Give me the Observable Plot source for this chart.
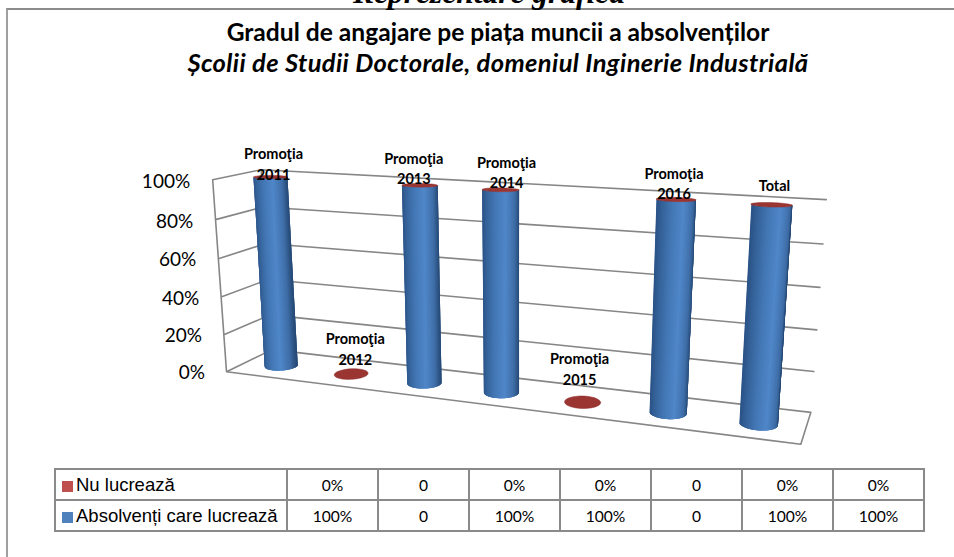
<!DOCTYPE html>
<html lang="ro">
<head>
<meta charset="utf-8">
<script src="https://cdn.jsdelivr.net/npm/d3@7"></script>
<script src="https://cdn.jsdelivr.net/npm/@observablehq/plot@0.6"></script>
<style>
  html, body { margin: 0; padding: 0; background: #fff; overflow: hidden; }
  #page { position: relative; width: 954px; height: 557px; overflow: hidden; }
  #page svg { position: absolute; left: 0; top: 0; background: transparent; }
  #frame { position: absolute; left: 6px; top: 8px; width: 960px; height: 560px; border-top: 2px solid #8c8c8c; border-left: 2px solid #a0a0a0; }
  .t { position: absolute; left: 0; width: 954px; text-align: center; color: #000; white-space: nowrap; }
  #head { top: -25px; left: 12px; font: italic bold 31.5px "Liberation Serif", serif; }
  #t1 { top: 17px; left: 43px; width: 910px; font: bold 24.6px Lato, sans-serif; }
  #t2 { top: 47px; left: 43px; width: 910px; font: italic bold 25.5px Lato, sans-serif; letter-spacing: 0.38px; }
  table { position: absolute; left: 54px; top: 468px; border-collapse: collapse; table-layout: fixed; width: 869px; height: 61px; }
  td { border: 2px solid #8a8a8a; padding: 0; text-align: center; font: 15.6px Lato, sans-serif; color: #000; height: 29px; }
  td.n { text-align: left; font: 18.5px "Liberation Sans", sans-serif; padding-left: 6px; white-space: nowrap; }
  td.n i { display: inline-block; width: 11px; height: 11px; margin-right: 3px; vertical-align: -1px; }
</style>
</head>
<body>
<div id="page">
  <div id="frame"></div>
  <div class="t" id="head">Reprezentare grafică</div>
  <div class="t" id="t1">Gradul de angajare pe piața muncii a absolvenților</div>
  <div class="t" id="t2">Școlii de Studii Doctorale, domeniul Inginerie Industrială</div>
</div>
<script>
// ---- data ----
const categories = ["Promoţia 2011", "Promoţia 2012", "Promoţia 2013", "Promoţia 2014", "Promoţia 2015", "Promoţia 2016", "Total"];
const absolventi = [100, 0, 100, 100, 0, 100, 100];
const nuLucreaza = [0, 0, 0, 0, 0, 0, 0];
const percentFormatted = [true, false, true, true, false, true, true];
const yTicks = [0, 20, 40, 60, 80, 100];
const seriesNames = ["Nu lucrează", "Absolvenți care lucrează"];
const seriesColors = ["#c0504d", "#4f81bd"];

// ---- style and layout ----
const labelNudge = [[3, -14], [4, -26], [-6, -18], [6, -18], [-3, -34], [-2, -17], [3, -20]];
const FRONT = -0.823, BACK = 1, LEFT = -0.5, RIGHT = 6.5;
const shade = d3.scaleLinear()
  .domain([0, 0.1, 0.32, 0.6, 0.85, 1])
  .range(["#2b5488", "#356299", "#4377b5", "#4f87c9", "#3f6ea8", "#264a76"]);

// Camera of the 3-D chart: (category index, percent, depth) -> screen.
const camera = d3.geoTransform({
  point(i, pct, d = 0) {
    const h = pct / 100;
    const w = 1 - 0.024 * i - 0.0443 * h + 0.0373 * d;
    this.stream.point((281 + 61.3 * i - 23 * h + 34.7 * d) / w,
                      (365 - 0.483 * i - 196.3 * h + 1.12 * d) / w);
  }
});

// A ring of a cylinder at category i, height pct; flatter towards the top.
const ring = (i, pct, t) => {
  const r = 0.196;
  const rd = 0.36 - 0.12 * pct / 100;
  return [i + r * Math.cos(t) - 0.07 * Math.sin(t), pct, rd * Math.sin(t) + 0.12 * Math.cos(t)];
};
const ellipse = (i, pct) => ({
  type: "Polygon",
  coordinates: [d3.range(49).map(k => ring(i, pct, k / 48 * 2 * Math.PI))]
});

// Walls and floor
const gridLines = {
  type: "MultiLineString",
  coordinates: [
    ...yTicks.filter(v => v > 0).map(v => [[LEFT, v, FRONT], [LEFT, v, BACK], [RIGHT, v, BACK]]),
    [[LEFT, 100, FRONT], [LEFT, 0, FRONT], [RIGHT, 0, FRONT], [RIGHT, 0, BACK], [LEFT, 0, BACK], [LEFT, 0, FRONT]],
    [[LEFT, 0, BACK], [LEFT, 100, BACK]]
  ]
};

// Blue cylinder sides, as shaded vertical strips painted left to right with an overlap
const strips = [];
const STRIPS = 40;
absolventi.forEach((v, i) => {
  if (v <= 0) return;
  for (let k = 0; k < STRIPS; ++k) {
    const t0 = Math.PI * (1 + k / STRIPS);
    const t1 = Math.PI * (1 + Math.min(k + 3, STRIPS) / STRIPS);
    const a = ring(i, 0, t0), m = ring(i, 0, (t0 + t1) / 2), b = ring(i, 0, t1);
    const c = ring(i, v, t1), n = ring(i, v, (t0 + t1) / 2), e = ring(i, v, t0);
    strips.push({
      type: "Polygon",
      coordinates: [[a, m, b, c, n, e, a]],
      color: shade((1 + Math.cos(Math.PI * (k + 0.5) / STRIPS - Math.PI)) / 2)
    });
  }
});

// Red caps: the zero-height "Nu lucrează" slice on top of each stack
const caps = categories.map((c, i) => ellipse(i, absolventi[i] + nuLucreaza[i]));

const point = (i, pct, d) => ({type: "Point", coordinates: [i, pct, d]});

const chart = Plot.plot({
  width: 954,
  height: 557,
  margin: 0,
  projection: camera,
  style: {background: "transparent"},
  marks: [
    Plot.geo([gridLines], {stroke: "#868686", strokeWidth: 1.6, fill: "none"}),
    Plot.geo(strips, {fill: d => d.color}),
    Plot.geo(caps, {fill: "#9a3532", stroke: "#8c2f2c", strokeWidth: 0.5}),
    Plot.text(yTicks, Plot.centroid({
      geometry: v => point(-0.82, v, FRONT),
      text: v => v + "%",
      textAnchor: "end",
      dy: 3.5,
      fontFamily: "Lato, sans-serif",
      fontSize: 19,
      fill: "#000"
    })),
    ...categories.map((c, i) => Plot.text([c], Plot.centroid({
      geometry: () => point(i, absolventi[i] + nuLucreaza[i], 0),
      text: d => d.replace(" ", "\n"),
      dx: labelNudge[i][0],
      dy: labelNudge[i][1],
      lineHeight: 1.4,
      fontFamily: "Lato, sans-serif",
      fontWeight: "bold",
      fontSize: 14.5,
      fill: "#000"
    })))
  ]
});
document.getElementById("page").appendChild(chart);

// Data table under the chart
const table = document.createElement("table");
const firstCol = 232, otherCol = 91;
table.innerHTML =
  `<colgroup><col style="width:${firstCol}px">${categories.map(() => `<col style="width:${otherCol}px">`).join("")}</colgroup>` +
  [nuLucreaza, absolventi].map((vals, s) =>
    `<tr><td class="n"><i style="background:${seriesColors[s]}"></i>${seriesNames[s]}</td>` +
    vals.map((v, i) => `<td>${v}${percentFormatted[i] ? "%" : ""}</td>`).join("") + `</tr>`
  ).join("");
document.getElementById("page").appendChild(table);
</script>
</body>
</html>
